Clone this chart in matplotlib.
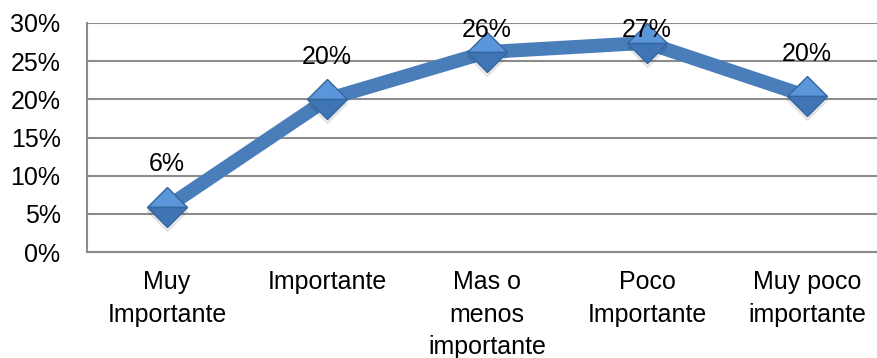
import matplotlib.pyplot as plt
from matplotlib.ticker import FuncFormatter

categories = ["Muy\nImportante", "Importante", "Mas o\nmenos\nimportante",
              "Poco\nImportante", "Muy poco\nimportante"]
values = [5.9, 20.0, 26.2, 27.4, 20.4]
labels = ["6%", "20%", "26%", "27%", "20%"]
yticks = [0, 5, 10, 15, 20, 25, 30]

plt.rcParams['font.family'] = ['Liberation Sans', 'DejaVu Sans']
FS = 18

fig = plt.figure(figsize=(8.78, 3.58), dpi=100)
ax = fig.add_axes([87/878, 1 - 252/358, 1 - 87/878, (252 - 23)/358])

x = range(len(values))
ax.plot(x, values, color='#4A7EBB', linewidth=10, solid_capstyle='butt',
        solid_joinstyle='round', zorder=3)
# soft shadow under markers
ax.plot(list(x), [v - 0.5 for v in values], linestyle='none',
        marker='D', markersize=20, color='#000000', alpha=0.08, zorder=3.5)
# two-tone diamond to hint at the bevel
ax.plot(x, values, linestyle='none', marker='D', markersize=20,
        fillstyle='top', markerfacecolor='#5B95DA',
        markerfacecoloralt='#3F74B5', markeredgecolor='#3466A0',
        markeredgewidth=1, zorder=4)

for i, (v, t) in enumerate(zip(values, labels)):
    ax.text(i, min(v + 5.6, 29.1), t, ha='center', va='center',
            fontsize=FS, color='black', zorder=5)

ax.set_xlim(-0.5, 4.5 - 9/160)
ax.set_ylim(0, 30)
ax.set_yticks(yticks)
ax.yaxis.set_major_formatter(FuncFormatter(lambda v, p: f"{v:.0f}%"))
ax.set_xticks(list(x))
ax.set_xticklabels(categories, linespacing=1.45)
ax.tick_params(axis='both', length=0, labelsize=FS, colors='black')
ax.tick_params(axis='y', pad=19)
ax.tick_params(axis='x', pad=13)

ax.grid(axis='y', color='#8C8C8C', linewidth=1.5)
ax.set_axisbelow(True)
for s in ['top', 'right']:
    ax.spines[s].set_visible(False)
for s in ['left', 'bottom']:
    ax.spines[s].set_color('#8C8C8C')
    ax.spines[s].set_linewidth(1.5)

fig.savefig('out.png', dpi=100)
